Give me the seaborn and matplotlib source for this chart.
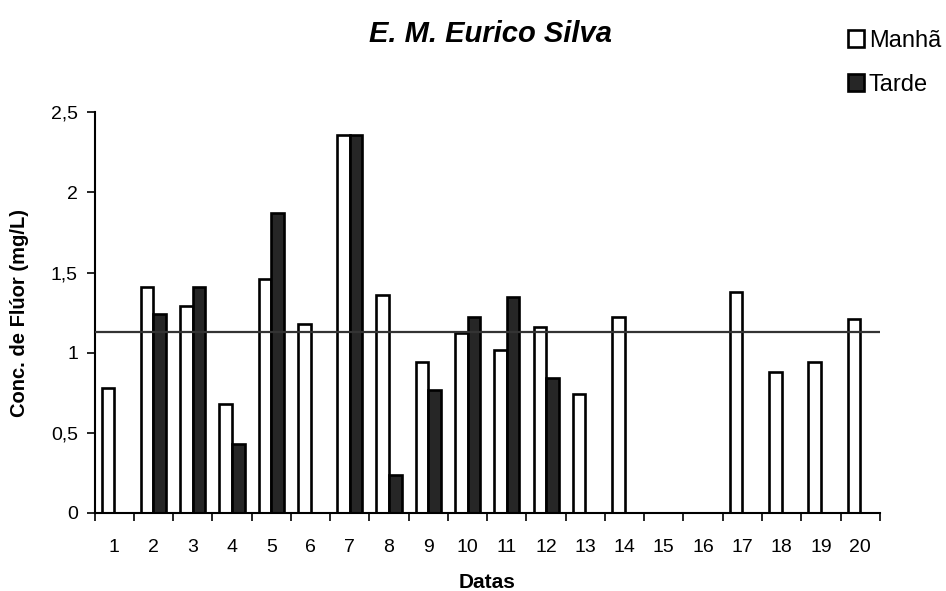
import numpy as np
import pandas as pd
import seaborn as sns
import matplotlib.pyplot as plt
from matplotlib.patches import Patch

# Fluoride concentration per sampling date (mg/L); NaN = no sample
datas = [str(i) for i in range(1, 21)]
manha = [0.78, 1.41, 1.29, 0.68, 1.46, 1.18, 2.36, 1.36, 0.94, 1.12,
         1.02, 1.16, 0.74, 1.22, np.nan, np.nan, 1.38, 0.88, 0.94, 1.21]
tarde = [np.nan, 1.24, 1.41, 0.43, 1.87, np.nan, 2.36, 0.24, 0.77, 1.22,
         1.35, 0.84, np.nan, np.nan, np.nan, np.nan, np.nan, np.nan, np.nan, np.nan]
referencia = 1.13
y_ticks = [0, 0.5, 1, 1.5, 2, 2.5]
y_tick_labels = ["0", "0,5", "1", "1,5", "2", "2,5"]

df = pd.DataFrame({
    "Datas": datas * 2,
    "Conc": manha + tarde,
    "Período": ["Manhã"] * len(datas) + ["Tarde"] * len(datas),
})

sns.set_theme(style="white")
plt.rcParams["font.family"] = ["Liberation Sans", "DejaVu Sans"]
plt.rcParams["text.color"] = "black"
plt.rcParams["axes.labelcolor"] = "black"
plt.rcParams["xtick.color"] = "black"
plt.rcParams["ytick.color"] = "black"

fig = plt.figure(figsize=(9.46, 5.91), dpi=100)
ax = fig.add_axes([0.100, 0.132, 0.830, 0.678])

palette = {"Manhã": "white", "Tarde": "#262626"}
sns.barplot(data=df, x="Datas", y="Conc", hue="Período", order=datas,
            hue_order=["Manhã", "Tarde"], palette=palette, width=0.64,
            edgecolor="black", linewidth=1.9, ax=ax, legend=False,
            errorbar=None)

ax.axhline(referencia, color="#333333", linewidth=1.6, zorder=3)

ax.set_xlim(-0.5, 19.5)
ax.set_ylim(0, 2.5)
ax.set_yticks(y_ticks)
ax.set_yticklabels(y_tick_labels, fontsize=14)
ax.set_xticks(range(len(datas)))
ax.set_xticklabels(datas, fontsize=14)
ax.set_xticks(np.arange(-0.5, 20, 1), minor=True)
ax.tick_params(axis="x", which="major", length=0, pad=19)
ax.tick_params(axis="x", which="minor", length=6, width=1.2, direction="out",
               color="black", bottom=True)
ax.tick_params(axis="y", which="major", length=6, width=1.2, direction="out",
               color="black", left=True, pad=6)

for side in ("top", "right"):
    ax.spines[side].set_visible(False)
for side in ("left", "bottom"):
    ax.spines[side].set_color("black")
    ax.spines[side].set_linewidth(1.5)

ax.set_xlabel("Datas", fontsize=15, fontweight="bold", labelpad=12)
ax.set_ylabel("Conc. de Flúor (mg/L)", fontsize=14.5, fontweight="bold", labelpad=16)

fig.text(0.518, 0.943, "E. M. Eurico Silva", fontsize=21, fontweight="bold",
         fontstyle="italic", ha="center", va="center")

handles = [Patch(facecolor="white", edgecolor="black", linewidth=1.9, label="Manhã"),
           Patch(facecolor="#262626", edgecolor="black", linewidth=1.9, label="Tarde")]
fig.legend(handles=handles, loc="upper left", bbox_to_anchor=(0.896, 0.950),
           frameon=False, fontsize=17, handlelength=0.7, handleheight=0.7,
           handletextpad=0.2, labelspacing=0.95, borderaxespad=0, borderpad=0)

fig.savefig("out.png", dpi=100, facecolor="white")
